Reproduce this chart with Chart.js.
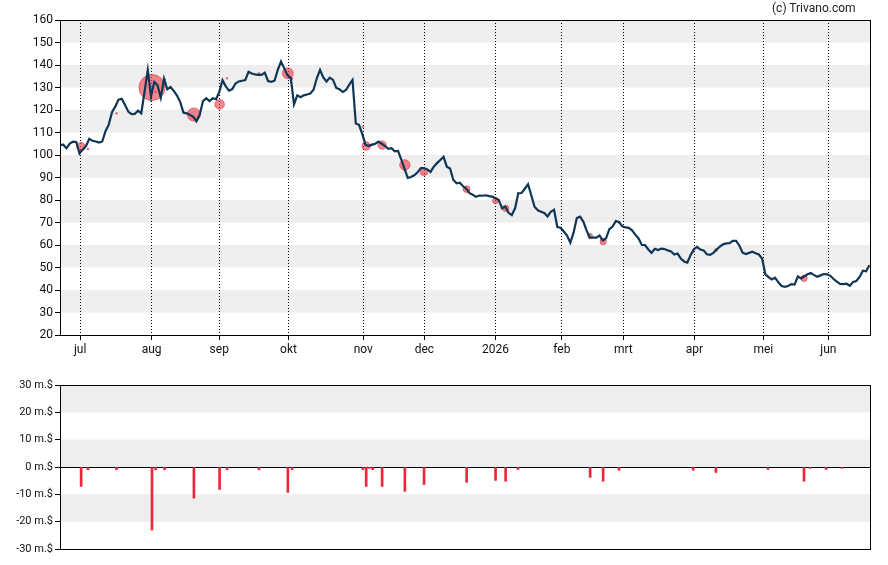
<!DOCTYPE html>
<html>
<head>
<meta charset="utf-8">
<script src="https://cdn.jsdelivr.net/npm/chart.js@4.4.1/dist/chart.umd.min.js"></script>
<style>
  body { margin: 0; background: #fff; }
  #wrap { position: relative; width: 888px; height: 565px; }
  #priceChart { position: absolute; left: 0; top: 0; }
  #tradeChart { position: absolute; left: 0; top: 365px; }
  #credit { position: absolute; left: 772px; top: 1px; font: 12px Roboto, sans-serif; color: #222; }
</style>
</head>
<body>
<div id="wrap">
  <canvas id="priceChart" width="888" height="365"></canvas>
  <canvas id="tradeChart" width="888" height="200"></canvas>
  <div id="credit">(c) Trivano.com</div>
</div>
<script>
// koers per handelsdag (index 0 = eerste dag in beeld)
const prices = [104.5,104.6,103,105.1,105.9,105.8,100.6,102.5,104,107.2,
  106.3,106,105.5,106,110.6,113.5,119,121.5,124.6,125,
  122.2,119.3,118.2,118.3,119.7,118.5,128,137.8,126,132.5,
  131,125.5,134,129.2,130.2,128.5,126.4,123.5,118.8,118.5,
  117.8,117,115,118,124,125.2,124,125.2,124.8,128,
  133.2,130.5,128.6,129.3,131.8,132.7,133,133.3,137,136.2,
  135.8,135.6,135.6,136.6,132.9,132.5,133,137.8,141.5,138.5,
  135.4,134.3,122.5,126.5,125.7,126.5,126.9,127.3,129,134.1,
  137.8,134.5,132.7,134.4,133.4,129.8,129.2,128,128.9,131.3,
  133.4,114,113.4,109.3,104.5,104,104.6,105,106,105,
  104,102.7,103,101.6,101.8,98,93.8,89.8,90.2,91,
  92.3,94.2,94.2,93.6,92.5,94.8,96.4,97.8,99.2,94.8,
  94,89,87.4,87.7,86.1,85,83,82.3,81.4,82,
  81.9,82.1,81.7,81.5,80.8,80,76.3,77,74.3,73.3,
  76.3,83,83.1,85,87,82,77,75.4,74.8,74.2,
  72.7,74.8,75.7,68,67.7,66,64.2,61,65.5,72,
  72.6,70.4,66.5,63.3,63.3,63.3,64.2,62,63,67,
  68.2,70.6,70.2,68.3,67.8,67.6,66.5,64.6,62.9,60,
  60,58,56.5,58.3,57.8,58.4,58.2,57.6,57.1,55.8,
  56.2,54,52.7,52.2,55.5,58.1,59.2,58,57.6,55.9,
  55.6,56.5,57.9,59.3,60.3,60.7,60.8,61.8,61.8,59.8,
  56.6,56,56.5,57,56.3,55.8,54,47,45.7,44.7,
  45.5,43.4,41.8,41.4,41.8,42.6,42.4,46,45.1,46.1,
  47,47.6,46.6,45.9,46.5,47.1,47,46.3,44.9,43.7,
  42.7,42.6,42.8,41.9,43.6,44,45.8,48.6,48.3,51];

// maandlabels en hun positie (handelsdag-index)
const monthLabels = ['jul','aug','sep','okt','nov','dec','2026','feb','mrt','apr','mei','jun'];
const monthDays = [6.2, 28.2, 49, 70.3, 93.3, 112.1, 134, 154.4, 173.3, 195.2, 216.4, 236.4];
const lastDay = 249.2;

// insider transacties: dag, koers, waarde in m.$
const tradeDays = [6.5, 8.6, 17.4, 28.3, 29.4, 32.2, 41.2, 49.1, 51.4, 61.2, 70.1, 71.4, 93.2, 94.2, 95.2, 96.2, 99.1,
  106.1, 112, 125.1, 134, 137.1, 140.9, 163.1, 167.1, 172, 194.8, 201.8, 217.8, 228.9, 230.8, 235.7, 240.6];
const tradePrices = [103.7, 102.6, 118.5, 130, 128, 133.6, 118, 122.5, 134.1, 136.3, 136.3, 134, 112.6, 104, 104.5, 104.5, 104.4,
  95.6, 92.6, 84.8, 79.7, 76.3, 83, 64, 61.5, 70, 57, 57.8, 46, 45.2, 47, 47, 42.6];
const tradeValues = [-7.1, -1, -1, -23.1, -1, -1, -11.4, -8.2, -1, -1, -9.3, -1, -1, -7.1, -0.5, -1, -7.1,
  -8.9, -6.4, -5.6, -4.9, -5.2, -0.9, -3.8, -5.2, -1.2, -1.2, -2, -0.9, -5.2, -0.5, -0.9, -0.5];

const FONT = { family: 'Roboto', size: 12 };
const FONT_SMALL = { family: 'Roboto', size: 11 };

// grijze banden om en om, bovenaan beginnen, plus rand om het plotvlak
const bandsPlugin = {
  id: 'bands',
  beforeDraw(chart) {
    const ctx = chart.ctx, a = chart.chartArea, y = chart.scales.y;
    const ticks = y.ticks.map(t => t.value).sort((p, q) => q - p);
    ctx.save();
    ctx.fillStyle = '#eeeeee';
    for (let i = 0; i < ticks.length - 1; i += 2) {
      const top = y.getPixelForValue(ticks[i]);
      const bot = y.getPixelForValue(ticks[i + 1]);
      ctx.fillRect(a.left, top, a.right - a.left, bot - top);
    }
    ctx.restore();
  },
  afterDraw(chart) {
    const ctx = chart.ctx, a = chart.chartArea;
    ctx.save();
    ctx.strokeStyle = '#000';
    ctx.lineWidth = 1;
    ctx.setLineDash([]);
    ctx.strokeRect(Math.round(a.left) + 0.5, Math.round(a.top) + 0.5,
      Math.round(a.right - a.left), Math.round(a.bottom - a.top));
    ctx.restore();
  }
};

const priceData = prices.map((v, i) => ({ x: i, y: v }));
const bubbleData = tradeDays.map((d, i) => ({ x: d, y: tradePrices[i], r: Math.abs(tradeValues[i]) * 0.55 + 0.3 }));
const barData = tradeDays.map((d, i) => ({ x: d, y: tradeValues[i] }));

new Chart(document.getElementById('priceChart'), {
  type: 'line',
  data: {
    datasets: [{
      type: 'line',
      data: priceData,
      borderColor: '#0f3656',
      borderWidth: 2.2,
      pointRadius: 0,
      tension: 0,
      order: 0
    }, {
      type: 'bubble',
      data: bubbleData,
      backgroundColor: 'rgba(236, 70, 85, 0.65)',
      borderColor: 'rgba(225, 45, 60, 0.6)',
      borderWidth: 1,
      order: 1
    }]
  },
  options: {
    responsive: false,
    animation: false,
    devicePixelRatio: 1,
    layout: { padding: { top: 20, right: 18, left: 0, bottom: 0 } },
    plugins: { legend: { display: false }, tooltip: { enabled: false } },
    scales: {
      x: {
        type: 'linear',
        min: 0,
        max: lastDay,
        offset: false,
        afterBuildTicks: s => { s.ticks = monthDays.map(v => ({ value: v })); },
        afterFit: s => { s.height = 30; },
        ticks: {
          autoSkip: false,
          maxRotation: 0,
          padding: 3,
          color: '#111',
          font: FONT,
          callback: (v, i) => monthLabels[i]
        },
        grid: {
          color: '#000',
          lineWidth: 1,
          tickBorderDash: [],
          tickColor: '#000',
          tickLength: 5
        },
        border: { display: true, color: '#000', width: 1, dash: [1, 2] }
      },
      y: {
        min: 20,
        max: 160,
        afterFit: s => { s.width = 60; },
        ticks: { stepSize: 10, padding: 2, color: '#111', font: FONT },
        grid: { drawOnChartArea: false, color: '#000', tickLength: 5 },
        border: { display: true, color: '#000', width: 1 }
      }
    }
  },
  plugins: [bandsPlugin]
});

new Chart(document.getElementById('tradeChart'), {
  type: 'bar',
  data: {
    datasets: [{
      data: barData,
      backgroundColor: '#e8293b',
      barThickness: 2,
      borderWidth: 0
    }]
  },
  options: {
    responsive: false,
    animation: false,
    devicePixelRatio: 1,
    layout: { padding: { top: 20, right: 18, left: 0, bottom: 16 } },
    plugins: { legend: { display: false }, tooltip: { enabled: false } },
    scales: {
      x: { type: 'linear', min: 0, max: lastDay, offset: false, display: false },
      y: {
        min: -30,
        max: 30,
        afterFit: s => { s.width = 60; },
        ticks: { stepSize: 10, padding: 2, color: '#111', font: FONT_SMALL, callback: v => v + ' m.$' },
        grid: {
          color: c => (c.tick && c.tick.value === 0 ? '#000' : 'rgba(0,0,0,0)'),
          tickColor: '#000',
          tickLength: 5
        },
        border: { display: true, color: '#000', width: 1 }
      }
    }
  },
  plugins: [bandsPlugin]
});
</script>
</body>
</html>
